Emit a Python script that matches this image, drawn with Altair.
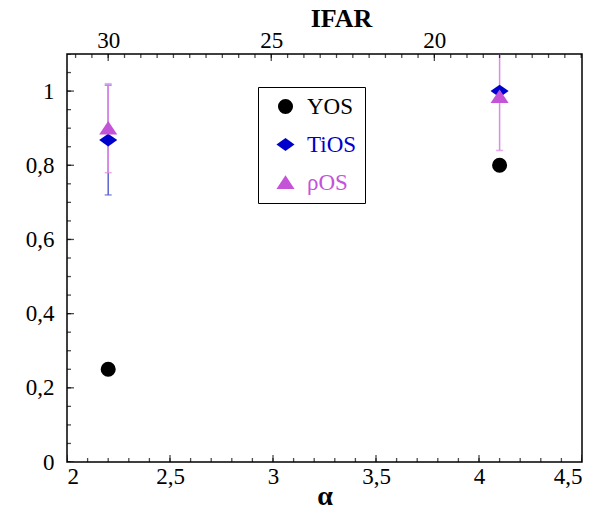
import altair as alt
import pandas as pd

# ---------------- data ----------------
alpha = [2.2, 4.1]
ifar = [30, 18]
series_names = ["YOS", "TiOS", "ρOS"]
yos = [0.25, 0.80]
tios = [0.868, 1.0]
tios_err = [0.148, 0.0]
rhoos = [0.90, 0.985]
rhoos_err = [0.12, 0.145]

x_major = [2, 2.5, 3, 3.5, 4, 4.5]
x_minor = [2.0, 2.1, 2.2, 2.3, 2.4, 2.5, 2.6, 2.7, 2.8, 2.9, 3.0, 3.1, 3.2, 3.3,
           3.4, 3.5, 3.6, 3.7, 3.8, 3.9, 4.0, 4.1, 4.2, 4.3, 4.4, 4.5]
y_major = [0, 0.2, 0.4, 0.6, 0.8, 1.0]
y_minor = [0, 0.05, 0.1, 0.15, 0.2, 0.25, 0.3, 0.35, 0.4, 0.45, 0.5, 0.55, 0.6,
           0.65, 0.7, 0.75, 0.8, 0.85, 0.9, 0.95, 1.0, 1.05, 1.1]
ifar_major = [30, 25, 20]
ifar_minor = [31, 30.5, 30, 29.5, 29, 28.5, 28, 27.5, 27, 26.5, 26, 25.5, 25, 24.5,
              24, 23.5, 23, 22.5, 22, 21.5, 21, 20.5, 20, 19.5, 19, 18.5, 18, 17.5,
              17, 16.5, 16, 15.5]

# ---------------- styling ----------------
colors = ["#000000", "#0000cc", "#c453d8"]
err_blue = "#5a64d2"
err_pink = "#dc8ce8"
diamond = "M-1.2,0L0,-0.85L1.2,0L0,0.85Z"
triangle = "M0,-0.95L1.2,0.85L-1.2,0.85Z"
FONT = "Liberation Serif"
FS = 23
W, H = 515, 408
MAJ, MIN = 7, 4

x_dom = [2, 4.5]
y_dom = [0, 1.1]
# IFAR axis aligned so that IFAR 30 <-> alpha 2.2 and IFAR 18 <-> alpha 4.1
slope = (ifar[0] - ifar[1]) / (alpha[1] - alpha[0])
ifar_dom = [ifar[0] + (alpha[0] - x_dom[0]) * slope, ifar[0] - (x_dom[1] - alpha[0]) * slope]

rows = []
for i in range(len(alpha)):
    rows.append({"alpha": alpha[i], "ifar": ifar[i], "series": "YOS", "value": yos[i]})
    rows.append({"alpha": alpha[i], "ifar": ifar[i], "series": "TiOS", "value": tios[i]})
    rows.append({"alpha": alpha[i], "ifar": ifar[i], "series": "ρOS", "value": rhoos[i]})
pts = pd.DataFrame(rows)

err_rows = []
for i in range(len(alpha)):
    if tios_err[i] > 0:
        err_rows.append({"alpha": alpha[i], "series": "TiOS",
                         "lo": tios[i] - tios_err[i], "hi": tios[i] + tios_err[i]})
    if rhoos_err[i] > 0:
        err_rows.append({"alpha": alpha[i], "series": "ρOS",
                         "lo": rhoos[i] - rhoos_err[i], "hi": rhoos[i] + rhoos_err[i]})
errs = pd.DataFrame(err_rows)

xs = alt.Scale(domain=x_dom, nice=False, zero=False)
ys = alt.Scale(domain=y_dom, nice=False, zero=True)
ifs = alt.Scale(domain=ifar_dom, nice=False, zero=False)
comma = "replace(toString(datum.value), '.', ',')"
label_color_expr = ("datum.value == '%s' ? '%s' : datum.value == '%s' ? '%s' : '%s'"
                    % (series_names[0], colors[0], series_names[1], colors[1], colors[2]))

# one shared y axis spec used by every layer (so the merged axis keeps its labels)
y_axis = alt.Axis(orient="left", values=y_major, labelExpr=comma, ticks=False,
                  labelPadding=13, title=None)


def Y(field):
    return alt.Y(field, scale=ys, axis=y_axis, title=None)


# error bars
def err_layer(name, col):
    d = errs[errs["series"] == name]
    base = alt.Chart(d)
    rule = base.mark_rule(color=col, strokeWidth=1.5, clip=True).encode(
        x=alt.X("alpha:Q", scale=xs, axis=None),
        y=Y("lo:Q"),
        y2="hi:Q",
    )
    cap_lo = base.mark_tick(color=col, orient="horizontal", size=7, thickness=1.5, clip=True).encode(
        x=alt.X("alpha:Q", scale=xs, axis=None),
        y=Y("lo:Q"),
    )
    cap_hi = base.mark_tick(color=col, orient="horizontal", size=7, thickness=1.5, clip=True).encode(
        x=alt.X("alpha:Q", scale=xs, axis=None),
        y=Y("hi:Q"),
    )
    return [rule, cap_lo, cap_hi]


# inward tick marks: ticks centred on the frame, outer half clipped away
def xticks(vals, scale, edge, length):
    d = pd.DataFrame({"v": vals, "e": [edge] * len(vals)})
    return alt.Chart(d).mark_tick(color="black", orient="vertical", size=2 * length,
                                  thickness=1.3, clip=True).encode(
        x=alt.X("v:Q", scale=scale, axis=None),
        y=Y("e:Q"),
    )


def yticks(vals, length):
    d = pd.DataFrame({"v": vals, "e": [x_dom[0]] * len(vals)})
    return alt.Chart(d).mark_tick(color="black", orient="horizontal", size=2 * length,
                                  thickness=1.3, clip=True).encode(
        x=alt.X("e:Q", scale=xs, axis=None),
        y=Y("v:Q"),
    )


tick_layers = [
    xticks(x_minor, xs, y_dom[0], MIN),
    xticks(x_major, xs, y_dom[0], MAJ),
    xticks(ifar_minor, ifs, y_dom[1], MIN),
    xticks(ifar_major, ifs, y_dom[1], MAJ),
    yticks(y_minor, MIN),
    yticks(y_major, MAJ),
]

points = alt.Chart(pts).mark_point(filled=True, opacity=1, size=227, strokeWidth=0).encode(
    x=alt.X("alpha:Q", scale=xs, title="α",
            axis=alt.Axis(orient="bottom", values=x_major, labelExpr=comma, ticks=False,
                          labelPadding=3, titleFontSize=28, titlePadding=-6)),
    y=Y("value:Q"),
    color=alt.Color("series:N", scale=alt.Scale(domain=series_names, range=colors),
                    legend=alt.Legend(
                        title=None, orient="none", legendX=191, legendY=33,
                        strokeColor="black", padding=8, symbolOffset=8,
                        labelFont=FONT, labelFontSize=FS, labelOffset=10,
                        symbolSize=227, rowPadding=14, symbolStrokeWidth=0,
                        labelExpr="datum.label + ' '",
                        labelColor={"expr": label_color_expr},
                    )),
    shape=alt.Shape("series:N", scale=alt.Scale(domain=series_names,
                                                 range=["circle", diamond, triangle])),
    order=alt.Order("ord:Q"),
).transform_calculate(ord="indexof(['YOS','TiOS','ρOS'], datum.series)")

top_axis = alt.Chart(pts).mark_point(opacity=0).encode(
    x=alt.X("ifar:Q", scale=ifs, title="IFAR",
            axis=alt.Axis(orient="top", values=ifar_major, ticks=False,
                          labelPadding=2, titleFontSize=26, titlePadding=-2,
                          titleX=274, titleAlign="center")),
    y=Y("value:Q"),
)

layers = (err_layer("TiOS", err_blue) + err_layer("ρOS", err_pink)
          + tick_layers + [points, top_axis])

chart = alt.layer(*layers).resolve_scale(
    x="independent"
).properties(
    width=W, height=H,
    padding={"left": 67, "top": 54, "right": 27, "bottom": 49},
    autosize=alt.AutoSizeParams(type="none"),
    background="white",
).configure_view(
    stroke="black", strokeWidth=1.5
).configure_axis(
    domain=False, grid=False,
    labelFont=FONT, labelFontSize=FS, labelColor="black",
    titleFont=FONT, titleFontWeight="bold", titleColor="black",
)

chart.save("out.html", embed_options={"renderer": "svg", "actions": False})
